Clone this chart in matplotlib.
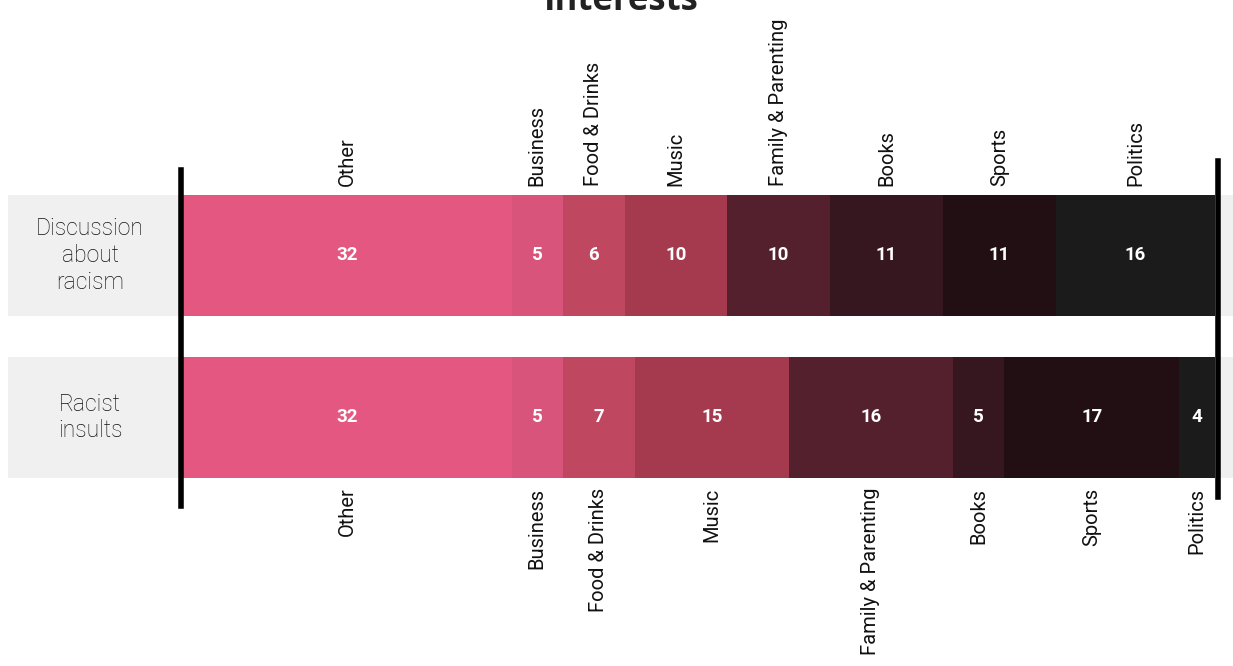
import matplotlib
matplotlib.use("Agg")
import matplotlib.pyplot as plt
from matplotlib.lines import Line2D

rows = ["Discussion\nabout\nracism", "Racist\ninsults"]
categories = ["Other", "Business", "Food & Drinks", "Music",
              "Family & Parenting", "Books", "Sports", "Politics"]
discussion_vals = [32, 5, 6, 10, 10, 11, 11, 16]
insults_vals = [32, 5, 7, 15, 16, 5, 17, 4]
colors = ["#e35780", "#d9547a", "#bf4860", "#a53a4e",
          "#55202e", "#36161f", "#210f14", "#1c1b1c"]
title = "Interests"

W, H = 1233, 666
fig = plt.figure(figsize=(W / 100, H / 100), dpi=100)
fig.patch.set_facecolor("white")

# axes: x from px 183 to 1215, y from px 195 to 478
x0, x1 = 183, 1215
y_top, y_bot = 195, 478
ax = fig.add_axes([x0 / W, 1 - y_bot / H, (x1 - x0) / W, (y_bot - y_top) / H])
bar_h = 121 / 162
xmax = 100.5
ax.set_xlim(0, xmax)
ax.set_ylim(1 + bar_h / 2, -bar_h / 2)
ax.axis("off")

ppu = (x1 - x0) / xmax
bg_left = (8 - x0) / ppu
bg_right = (W - x0) / ppu
for i in range(len(rows)):
    ax.barh(i, bg_right - bg_left, left=bg_left, height=bar_h,
            color="#f0f0f0", clip_on=False, zorder=0, linewidth=0)

font = "Roboto"
for i, vals in enumerate([discussion_vals, insults_vals]):
    left = 0
    for c, v, col in zip(categories, vals, colors):
        ax.barh(i, v, left=left, height=bar_h, color=col, zorder=2, linewidth=0)
        cx = (left + min(left + v, xmax)) / 2
        ax.text(cx, i, str(v), ha="center", va="center", color="white",
                fontsize=13.5, fontweight="bold", family=font, zorder=3)
        if i == 0:
            ax.annotate(c, xy=(cx, -bar_h / 2), xytext=(0, 6.5),
                        textcoords="offset points", rotation=90,
                        ha="center", va="bottom", fontsize=14.5,
                        family=font, color="#111111", annotation_clip=False)
        else:
            ax.annotate(c, xy=(cx, 1 + bar_h / 2), xytext=(0, -7),
                        textcoords="offset points", rotation=90,
                        ha="center", va="top", fontsize=14.5,
                        family=font, color="#111111", annotation_clip=False)
        left += v
    ax.text((90 - x0) / ppu, i, rows[i], ha="center", va="center",
            fontsize=16.5, family=font, fontweight="light", color="#111111",
            linespacing=1.2, clip_on=False)

# vertical black rules
fig.add_artist(Line2D([180.5 / W, 180.5 / W], [1 - 170 / H, 1 - 506 / H],
                      color="black", lw=4, transform=fig.transFigure))
fig.add_artist(Line2D([1218 / W, 1218 / W], [1 - 161 / H, 1 - 497 / H],
                      color="black", lw=4, transform=fig.transFigure))

fig.text(621 / W, 1 - 10 / H, title, ha="center", va="baseline",
         fontsize=25, fontweight="bold", family="Open Sans", color="#222222")

fig.savefig("out.png", dpi=100)
